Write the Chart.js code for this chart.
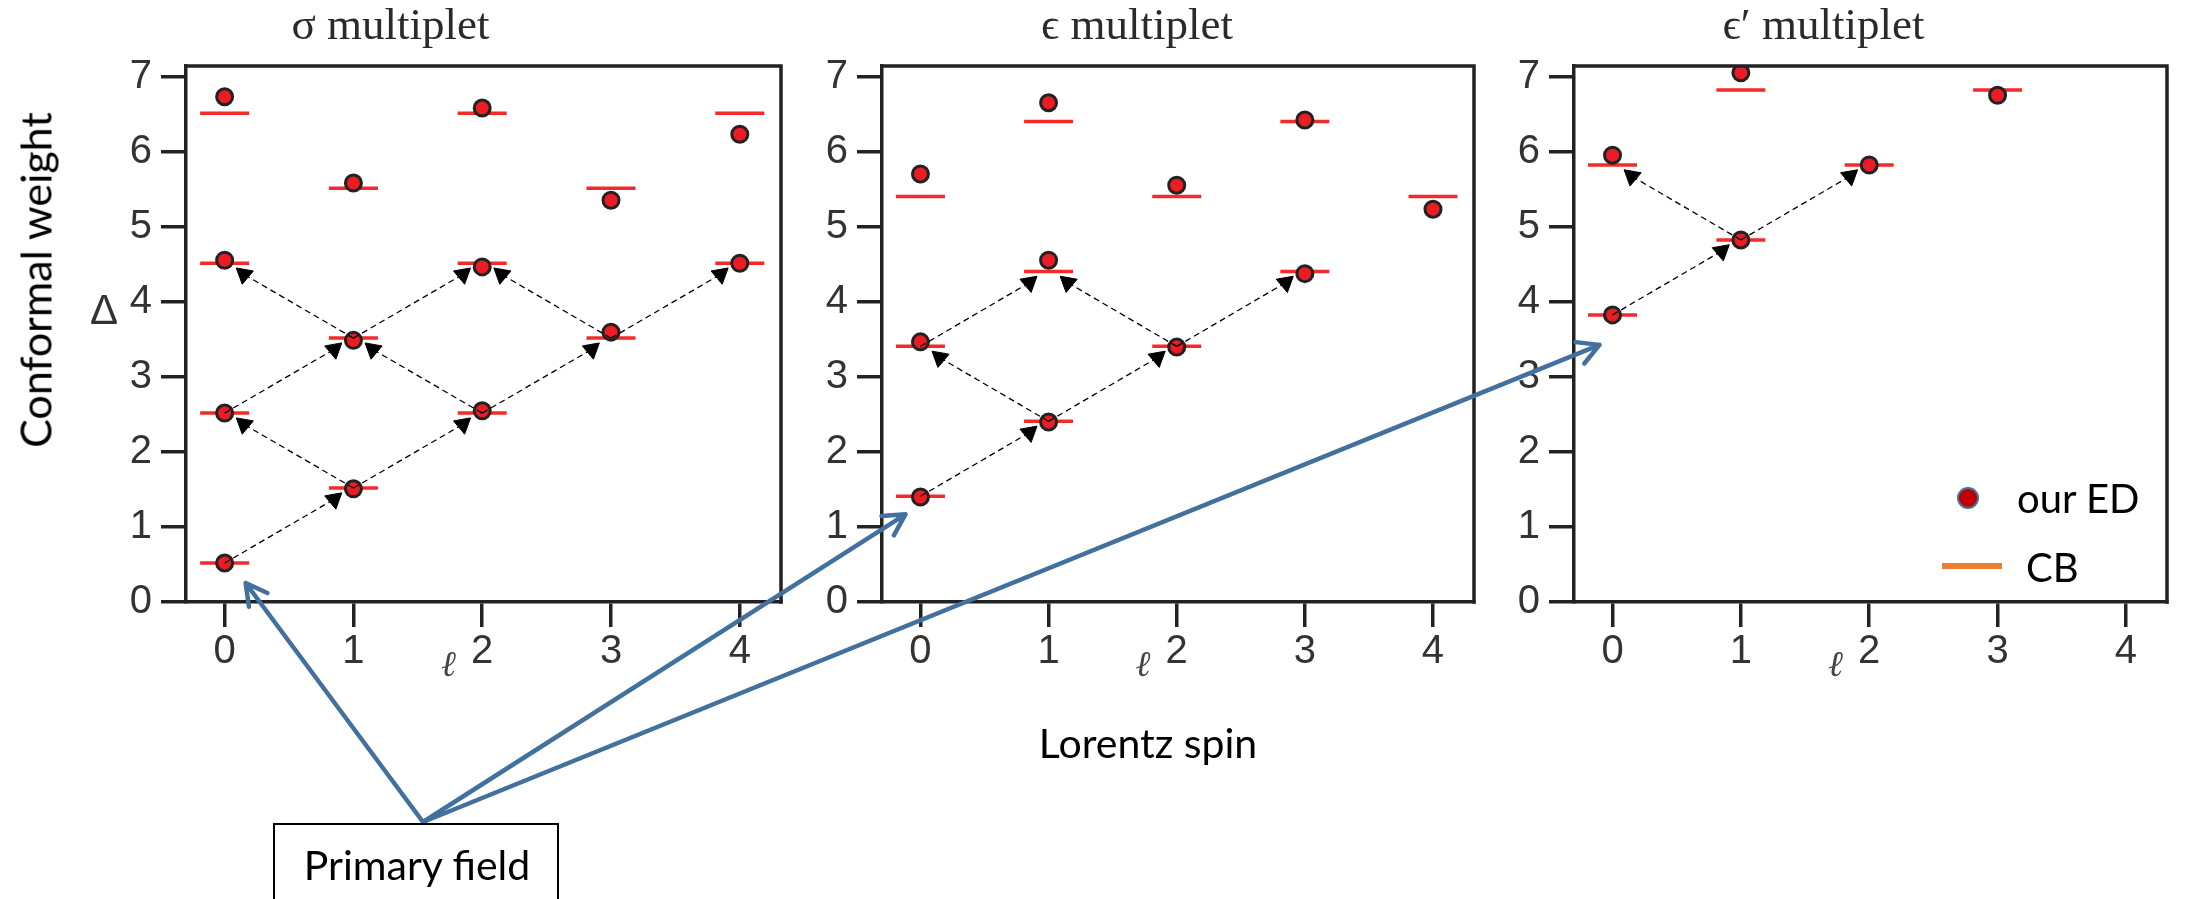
<!DOCTYPE html>
<html>
<head>
<meta charset="utf-8">
<script src="https://cdn.jsdelivr.net/npm/chart.js@4.4.1/dist/chart.umd.min.js"></script>
<style>
  html, body { margin: 0; padding: 0; background: #fff; }
  #page { position: relative; width: 2185px; height: 899px; overflow: hidden; font-family: Lato, "Open Sans", sans-serif; }
  canvas { position: absolute; top: 0; }
  .note { position: absolute; color: #000; font-size: 41px; line-height: 1; white-space: nowrap; transform: translate(-50%, -50%); }
  #yTitle { left: 35px; top: 280px; font-size: 43px; transform: translate(-50%, -50%) rotate(-90deg); }
  #xTitle { left: 1148px; top: 742px; }
  #primaryBox { position: absolute; left: 273px; top: 823px; width: 286px; height: 120px; border: 2px solid #000; box-sizing: border-box; }
  #primaryText { left: 417px; top: 864px; }
  #edDot { position: absolute; left: 1957px; top: 487px; width: 22px; height: 22px; border-radius: 50%; background: #c00000; border: 2px solid #41719c; box-sizing: border-box; }
  #edText { left: 2017px; top: 498px; font-size: 40px; transform: translate(0, -50%); }
  #cbBar { position: absolute; left: 1942px; top: 563px; width: 60px; height: 6px; background: #ed7d31; }
  #cbText { left: 2026px; top: 567px; font-size: 40px; transform: translate(0, -50%); }
</style>
</head>
<body>
<div id="page">
  <canvas id="sigmaChart" width="920" height="700" style="left:0px"></canvas>
  <canvas id="epsChart" width="744" height="700" style="left:800px"></canvas>
  <canvas id="epsPrimeChart" width="790" height="700" style="left:1480px"></canvas>
  <canvas id="callouts" width="2185" height="899" style="left:0px"></canvas>
  <div id="yTitle" class="note">Conformal weight</div>
  <div id="xTitle" class="note">Lorentz spin</div>
  <div id="primaryBox"></div>
  <div id="primaryText" class="note">Primary field</div>
  <div id="edDot"></div>
  <div id="edText" class="note">our ED</div>
  <div id="cbBar"></div>
  <div id="cbText" class="note">CB</div>
</div>
<script>
//********************** data *****************************
var spins = [0, 1, 2, 3, 4];
var xTicks = [0, 1, 2, 3, 4];
var yTicks = [0, 1, 2, 3, 4, 5, 6, 7];

// conformal weights, one list per spin (ED = dots, CB = red bars)
var sigmaED = [[0.52, 2.52, 4.56, 6.74], [1.51, 3.49, 5.59], [2.55, 4.47, 6.59], [3.60, 5.36], [4.52, 6.24]];
var sigmaCB = [[0.52, 2.52, 4.52, 6.52], [1.52, 3.52, 5.52], [2.52, 4.52, 6.52], [3.52, 5.52], [4.52, 6.52]];
var epsED = [[1.40, 3.47, 5.71], [2.40, 4.56, 6.66], [3.40, 5.56], [4.38, 6.43], [5.24]];
var epsCB = [[1.41, 3.41, 5.41], [2.41, 4.41, 6.41], [3.41, 5.41], [4.41, 6.41], [5.41]];
var epsPrimeED = [[3.83, 5.96], [4.83, 7.06], [5.83], [6.76]];
var epsPrimeCB = [[3.83, 5.83], [4.83, 6.83], [5.83], [6.83]];

// descendant arrows: [from spin, from level, to spin, to level]
var sigmaArrows = [[0,0,1,0], [1,0,0,1], [1,0,2,0], [0,1,1,1], [2,0,1,1], [2,0,3,0], [1,1,0,2], [1,1,2,1], [3,0,2,1], [3,0,4,0]];
var epsArrows = [[0,0,1,0], [1,0,0,1], [1,0,2,0], [0,1,1,1], [2,0,1,1], [2,0,3,0]];
var epsPrimeArrows = [[0,0,1,0], [1,0,0,1], [1,0,2,0]];

var headAt = 0.85;   // where the arrow head sits along each link
var tickFont = { family: '"Liberation Sans", Arial, sans-serif', size: 40 };

// box on top/right, the l label and the Delta
var frame = {
  id: 'frame',
  afterDraw: function(chart, args, opts) {
    var ctx = chart.ctx, a = chart.chartArea;
    ctx.save();
    ctx.strokeStyle = '#222';
    ctx.lineWidth = 3.5;
    ctx.beginPath();
    ctx.moveTo(a.left - 1.75, a.top);
    ctx.lineTo(a.right, a.top);
    ctx.lineTo(a.right, a.bottom + 1.75);
    ctx.stroke();
    ctx.fillStyle = '#444';
    ctx.textAlign = 'center';
    ctx.textBaseline = 'middle';
    ctx.font = 'italic 36px "DejaVu Serif", serif';
    ctx.fillText('ℓ', chart.scales.x.getPixelForValue(2) - 34, a.bottom + 65);
    if (opts.delta) {
      ctx.fillStyle = '#333';
      ctx.font = '42px "Liberation Sans", Arial, sans-serif';
      ctx.fillText('Δ', 104, 312);
    }
    ctx.restore();
  }
};

function makePanel(id, title, ed, cb, arrows, axisWidth, padRight, delta) {
  var dots = [], bars = [], links = [];
  ed.forEach(function(levels, s) { levels.forEach(function(v) { dots.push({x: spins[s], y: v}); }); });
  cb.forEach(function(levels, s) { levels.forEach(function(v) { bars.push({x: spins[s], y: v}); }); });
  arrows.forEach(function(r) {
    var x0 = spins[r[0]], y0 = cb[r[0]][r[1]], x1 = spins[r[2]], y1 = cb[r[2]][r[3]];
    links.push({x: x0, y: y0});
    links.push({x: x0 + headAt * (x1 - x0), y: y0 + headAt * (y1 - y0), head: x1 > x0 ? 170 : 190});
    links.push({x: x1, y: null});
  });

  return new Chart(document.getElementById(id), {
    type: 'scatter',
    data: {
      datasets: [
        { label: 'links', data: links, showLine: true, spanGaps: false,
          borderColor: '#000', borderWidth: 1.3, borderDash: [6, 4],
          pointStyle: 'triangle',
          pointRadius: function(c) { return c.raw && c.raw.head ? 10 : 0; },
          pointRotation: function(c) { return c.raw && c.raw.head ? c.raw.head : 0; },
          pointBackgroundColor: '#000', pointBorderColor: '#000', pointBorderWidth: 1, order: 0 },
        { label: 'our ED', data: dots, pointRadius: 8,
          pointBackgroundColor: '#ec1c24', pointBorderColor: '#222', pointBorderWidth: 3, order: 1 },
        { label: 'CB', data: bars, pointStyle: 'line', pointRadius: 24.5,
          pointBorderColor: '#f22a2a', pointBorderWidth: 3.5, order: 2 }
      ]
    },
    options: {
      responsive: false,
      animation: false,
      events: [],
      layout: { padding: { left: 0, right: padRight, top: 0, bottom: 0 } },
      plugins: {
        legend: { display: false },
        tooltip: { enabled: false },
        title: { display: true, text: title, color: '#2a2a2a',
          font: { family: '"Liberation Serif", "DejaVu Serif", serif', size: 45, weight: 'normal' },
          padding: { top: 0, bottom: 12 } },
        frame: { delta: delta }
      },
      scales: {
        x: {
          type: 'linear', min: -0.3, max: 4.32,
          afterBuildTicks: function(s) { s.ticks = xTicks.map(function(v) { return {value: v}; }); },
          afterFit: function(s) { s.height = 98; },
          border: { display: true, width: 3.5, color: '#222' },
          grid: { drawOnChartArea: false, drawTicks: true, tickLength: 25, lineWidth: 3.5, color: '#222' },
          ticks: { font: tickFont, color: '#333', padding: 1, maxRotation: 0, autoSkip: false }
        },
        y: {
          type: 'linear', min: 0, max: 7.15,
          afterBuildTicks: function(s) { s.ticks = yTicks.map(function(v) { return {value: v}; }); },
          afterFit: function(s) { s.width = axisWidth; },
          border: { display: true, width: 3.5, color: '#222' },
          grid: { drawOnChartArea: false, drawTicks: true, tickLength: 25, lineWidth: 3.5, color: '#222' },
          ticks: { font: tickFont, color: '#333', padding: 9, autoSkip: false }
        }
      }
    },
    plugins: [frame]
  });
}

var charts = [
  makePanel('sigmaChart', 'σ multiplet', sigmaED, sigmaCB, sigmaArrows, 186, 139, true),
  makePanel('epsChart', 'ϵ multiplet', epsED, epsCB, epsArrows, 82, 70, false),
  makePanel('epsPrimeChart', 'ϵ′ multiplet', epsPrimeED, epsPrimeCB, epsPrimeArrows, 94, 103, false)
];
var primaries = [sigmaCB[0][0], epsCB[0][0], epsPrimeCB[0][0]];

// blue "Primary field" pointers
function drawCallouts() {
  var ctx = document.getElementById('callouts').getContext('2d');
  var from = [423, 822];
  var nudge = [[21, 20], [-15, 18], [-13, 30]];
  ctx.strokeStyle = '#41719c';
  ctx.lineWidth = 4.5;
  ctx.lineCap = 'round';
  ctx.lineJoin = 'round';
  charts.forEach(function(c, i) {
    var tx = c.canvas.offsetLeft + c.scales.x.getPixelForValue(0) + nudge[i][0];
    var ty = c.scales.y.getPixelForValue(primaries[i]) + nudge[i][1];
    var ang = Math.atan2(ty - from[1], tx - from[0]);
    ctx.beginPath();
    ctx.moveTo(from[0], from[1]);
    ctx.lineTo(tx, ty);
    ctx.moveTo(tx - 24 * Math.cos(ang - 0.5), ty - 24 * Math.sin(ang - 0.5));
    ctx.lineTo(tx, ty);
    ctx.lineTo(tx - 24 * Math.cos(ang + 0.5), ty - 24 * Math.sin(ang + 0.5));
    ctx.stroke();
  });
}
drawCallouts();
</script>
</body>
</html>
